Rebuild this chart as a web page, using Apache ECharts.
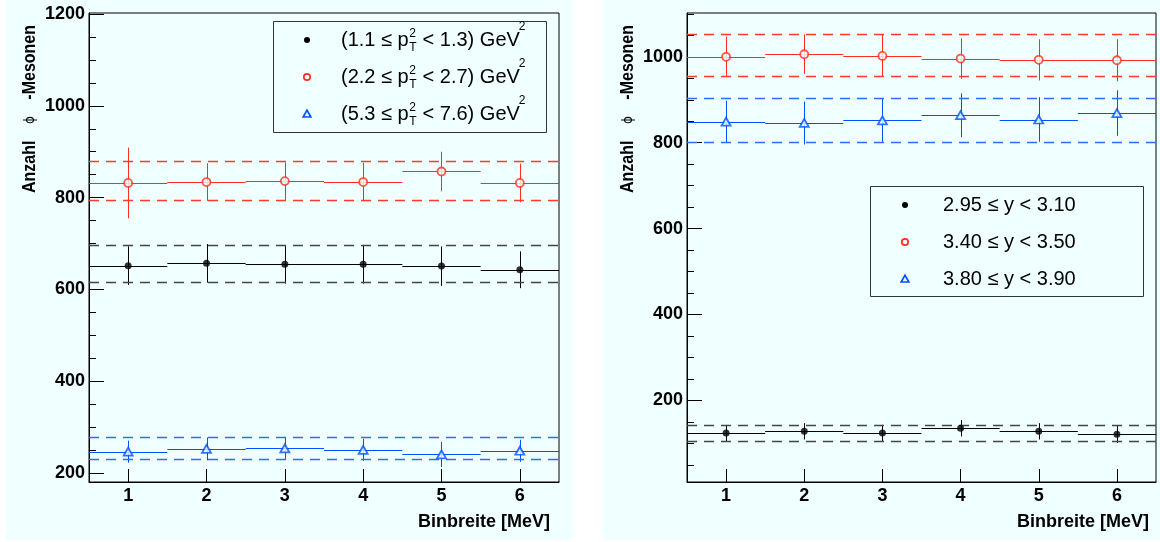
<!DOCTYPE html>
<html><head><meta charset="utf-8">
<script src="https://cdn.jsdelivr.net/npm/echarts@6/dist/echarts.min.js"></script>
<style>html,body{margin:0;padding:0;background:#fff}#c{width:1160px;height:542px}</style>
</head><body><div id="c"></div>
<script>
// ---------- data ----------
const binWidths = [1, 2, 3, 4, 5, 6];
const xTickLabels = [1, 2, 3, 4, 5, 6];
const leftYTicks = [200, 400, 600, 800, 1000, 1200];
const rightYTicks = [200, 400, 600, 800, 1000];

// left panel: pT^2 bins
const ptLow = ['1.1', '2.2', '5.3'];
const ptHigh = ['1.3', '2.7', '7.6'];
const ptBlackVals = [652, 657, 655, 655, 651, 643];
const ptBlackErr = [42, 42, 42, 42, 43, 40];
const ptBlackBand = [616, 697];
const ptRedVals = [832, 834, 836, 834, 857, 832];
const ptRedErr = [77, 41, 41, 42, 43, 42];
const ptRedBand = [794, 879];
const ptBlueVals = [247, 253, 254, 251, 241, 249];
const ptBlueErr = [24, 25, 24, 24, 27, 24];
const ptBlueBand = [231, 278];

// right panel: rapidity bins
const yLabels = ['2.95 \u2264 y < 3.10', '3.40 \u2264 y < 3.50', '3.80 \u2264 y < 3.90'];
const yBlackVals = [124, 128, 124, 135, 128, 121];
const yBlackErr = [19, 19, 19, 19, 19, 20];
const yBlackBand = [105, 143];
const yRedVals = [1000, 1006, 1002, 996, 993, 992];
const yRedErr = [47, 46, 49, 47, 48, 49];
const yRedBand = [954, 1053];
const yBlueVals = [849, 846, 852, 864, 854, 869];
const yBlueErr = [49, 50, 50, 51, 52, 53];
const yBlueBand = [802, 903];

// ---------- styles ----------
const BG = '#f0ffff';
const FONT = '"Liberation Sans", Arial, sans-serif';
const COL = {
  black: {line: '#000000', dash: '#444444'},
  red:   {line: '#ff2d1f', dash: '#ff3a2a'},
  blue:  {line: '#0050ff', dash: '#2a6eff'}
};

function binRender(color) {
  return function (params, api) {
    const x = api.value(0), y = api.value(1), e = api.value(2);
    const a = api.coord([x - 0.5, y]), b = api.coord([x + 0.5, y]);
    const t = api.coord([x, y + e]), u = api.coord([x, y - e]);
    const hy = Math.round(a[1]) + 0.5, vx = Math.round(t[0]) + 0.5;
    return {type: 'group', children: [
      {type: 'line', shape: {x1: a[0], y1: hy, x2: b[0], y2: hy}, style: {stroke: color, lineWidth: 1}},
      {type: 'line', shape: {x1: vx, y1: t[1], x2: vx, y2: u[1]}, style: {stroke: color, lineWidth: 1}}
    ]};
  };
}

const markerStyle = {
  black: {symbol: 'circle', symbolSize: 7, itemStyle: {color: '#000', borderWidth: 0}},
  red:   {symbol: 'circle', symbolSize: 8, itemStyle: {color: BG, borderColor: '#ff2d1f', borderWidth: 1.8}},
  blue:  {symbol: 'triangle', symbolSize: [9, 8], itemStyle: {color: BG, borderColor: '#0050ff', borderWidth: 1.8}}
};

function makeSeries(panel, key, vals, errs, band) {
  const xi = panel, yi = panel * 2;
  const c = COL[key];
  return [
    {type: 'custom', xAxisIndex: xi, yAxisIndex: yi, renderItem: binRender(c.line), z: 3,
     data: binWidths.map((x, i) => [x, vals[i], errs[i]]), clip: false},
    Object.assign({type: 'scatter', xAxisIndex: xi, yAxisIndex: yi, z: 5,
     data: binWidths.map((x, i) => [x, vals[i]]),
     markLine: {silent: true, symbol: 'none', label: {show: false}, animation: false,
       lineStyle: {type: [10, 7], color: c.dash, width: 1.3}, emphasis: {disabled: true},
       data: band.map(v => ({yAxis: v}))}
    }, markerStyle[key])
  ];
}

function minorTicks(min, max) {
  const out = [];
  for (let v = Math.ceil(min / 50) * 50; v <= max; v += 50) out.push(v);
  return out;
}

function xAxisCfg(g) {
  return {type: 'value', gridIndex: g, min: 0.5, max: 6.5,
    axisLine: {show: true, lineStyle: {color: '#000', width: 1}},
    axisTick: {show: true, inside: true, length: 13, customValues: xTickLabels, lineStyle: {color: '#000'}},
    axisLabel: {show: true, customValues: xTickLabels, margin: 5, formatter: v => String(v),
      fontFamily: FONT, fontWeight: 'bold', fontSize: 18, color: '#000'},
    splitLine: {show: false}};
}
function yMajor(g, min, max, ticks) {
  return {type: 'value', gridIndex: g, min: min, max: max, position: 'left',
    axisLine: {show: true, lineStyle: {color: '#000', width: 1}},
    axisTick: {show: true, inside: true, length: 15, customValues: ticks, lineStyle: {color: '#000'}},
    axisLabel: {show: true, customValues: ticks, margin: 4, formatter: v => String(v),
      fontFamily: FONT, fontWeight: 'bold', fontSize: 18, color: '#000'},
    splitLine: {show: false}};
}
function yMinor(g, min, max) {
  return {type: 'value', gridIndex: g, min: min, max: max, position: 'left', offset: 0,
    axisLine: {show: false},
    axisTick: {show: true, inside: true, length: 7, customValues: minorTicks(min, max), lineStyle: {color: '#000'}},
    axisLabel: {show: false}, splitLine: {show: false}};
}

// ---------- graphics: pads, titles, legends ----------
const ctx = document.createElement('canvas').getContext('2d');
function tw(text, font) { ctx.font = font; return ctx.measureText(text).width; }

const gfx = [
  {type: 'rect', z: -10, silent: true, shape: {x: 6, y: 0, width: 567, height: 540}, style: {fill: BG}},
  {type: 'rect', z: -10, silent: true, shape: {x: 603, y: 0, width: 557, height: 540}, style: {fill: BG}}
];

const TFONT = 'bold 16px ' + FONT;
function rotText(text, x, y, align, font) {
  gfx.push({type: 'text', z: 50, x: x, y: y, rotation: Math.PI / 2, scaleY: 1.18, silent: true,
    style: {text: text, font: font, fill: '#000', align: align, verticalAlign: 'middle'}});
}
function yTitle(x) {
  rotText('-Mesonen', x, 25, 'right', TFONT);
  rotText('\u03d5', x, 120, 'center', '12px "DejaVu Sans"');
  rotText('Anzahl', x, 193, 'left', TFONT);
}
function xTitle(x, y) {
  gfx.push({type: 'text', z: 50, x: x, y: y, silent: true,
    style: {text: 'Binbreite [MeV]', align: 'right', verticalAlign: 'middle',
      font: 'bold 18px ' + FONT, fill: '#000'}});
}
yTitle(30); yTitle(628);
xTitle(550, 522); xTitle(1149, 522);

function legendMarker(key, x, y) {
  if (key === 'black') gfx.push({type: 'circle', z: 60, shape: {cx: x, cy: y, r: 3}, style: {fill: '#000'}});
  if (key === 'red') gfx.push({type: 'circle', z: 60, shape: {cx: x, cy: y, r: 3.2}, style: {fill: BG, stroke: '#ff2d1f', lineWidth: 1.7}});
  if (key === 'blue') gfx.push({type: 'polygon', z: 60, shape: {points: [[x, y - 3.8], [x + 3.8, y + 3], [x - 3.8, y + 3]]}, style: {fill: BG, stroke: '#0050ff', lineWidth: 1.7}});
}
const keys = ['black', 'red', 'blue'];
const LFONT = '20px ' + FONT, SFONT = '12px ' + FONT;
const txt = (t, x, y, f) => gfx.push({type: 'text', z: 60, x: x, y: y, silent: true,
  style: {text: t, font: f, fill: '#000', align: 'left', verticalAlign: 'middle'}});

// left legend
gfx.push({type: 'rect', z: 55, shape: {x: 273.5, y: 21.5, width: 273, height: 111}, style: {fill: BG, stroke: '#333', lineWidth: 1}});
[40, 77, 114].forEach((yy, i) => {
  legendMarker(keys[i], 307, yy);
  const x0 = 341;
  const t1 = '(' + ptLow[i] + ' \u2264 p';
  const w1 = tw(t1, LFONT);
  const ws = Math.max(tw('2', SFONT), tw('T', SFONT));
  const t2 = ' < ' + ptHigh[i] + ') GeV';
  const w2 = tw(t2, LFONT);
  txt(t1, x0, yy, LFONT);
  txt('2', x0 + w1 + 0.5, yy - 6, SFONT);
  txt('T', x0 + w1 + 0.5, yy + 8, SFONT);
  const x2 = x0 + w1 + ws + 1;
  txt(t2, x2, yy, LFONT);
  txt('2', x2 + w2 - 1, yy - 13, SFONT);
});

// right legend
gfx.push({type: 'rect', z: 55, shape: {x: 870.5, y: 186.5, width: 273, height: 110}, style: {fill: BG, stroke: '#333', lineWidth: 1}});
[205, 242, 279].forEach((yy, i) => {
  legendMarker(keys[i], 905, yy);
  txt(yLabels[i], 943, yy, LFONT);
});

const option = {
  animation: false,
  backgroundColor: '#ffffff',
  grid: [
    {left: 89, top: 13, width: 470, height: 469, show: true, borderColor: '#000', borderWidth: 1, backgroundColor: 'transparent'},
    {left: 687, top: 13, width: 469, height: 469, show: true, borderColor: '#000', borderWidth: 1, backgroundColor: 'transparent'}
  ],
  xAxis: [xAxisCfg(0), xAxisCfg(1)],
  yAxis: [yMajor(0, 181, 1202, leftYTicks), yMinor(0, 181, 1202),
          yMajor(1, 10, 1102, rightYTicks), yMinor(1, 10, 1102)],
  series: [].concat(
    makeSeries(0, 'black', ptBlackVals, ptBlackErr, ptBlackBand),
    makeSeries(0, 'red', ptRedVals, ptRedErr, ptRedBand),
    makeSeries(0, 'blue', ptBlueVals, ptBlueErr, ptBlueBand),
    makeSeries(1, 'black', yBlackVals, yBlackErr, yBlackBand),
    makeSeries(1, 'red', yRedVals, yRedErr, yRedBand),
    makeSeries(1, 'blue', yBlueVals, yBlueErr, yBlueBand)
  ),
  graphic: {elements: gfx}
};
const chart = echarts.init(document.getElementById('c'));
chart.setOption(option);
</script>
</body></html>
